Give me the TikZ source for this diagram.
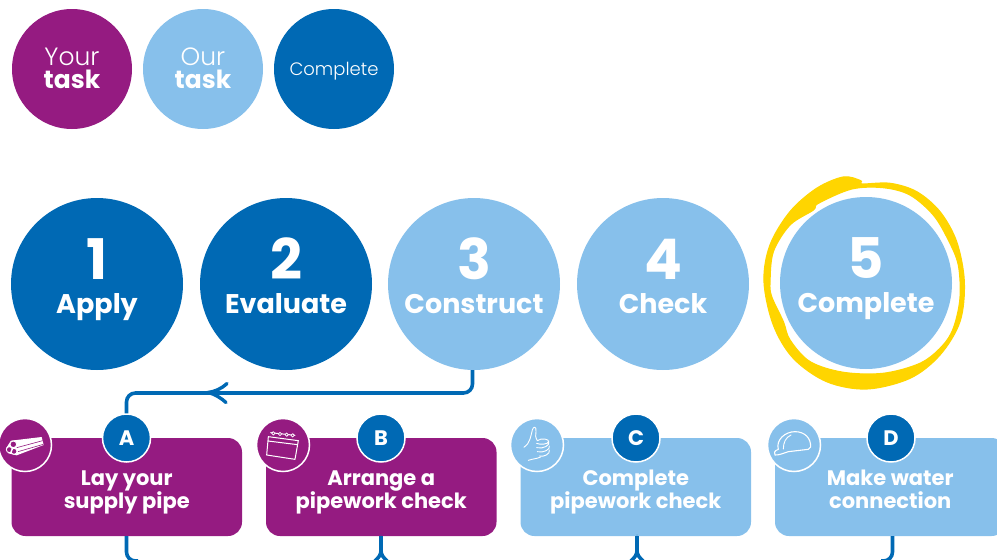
\documentclass[tikz,border=0pt]{standalone}
\usepackage{fontspec}
\setmainfont{Poppins}[UprightFont=*-Light,BoldFont=*-SemiBold]
\newfontfamily\heavy{Poppins Bold}[UprightFont=*,BoldFont=*]
\definecolor{purp}{HTML}{951B81}
\definecolor{lblue}{HTML}{87C0EB}
\definecolor{dblue}{HTML}{0069B4}
\definecolor{yell}{HTML}{FFD500}
\tikzset{
 legend/.style={circle,inner sep=0,minimum size=120pt,align=center,text=white,font=\fontsize{25}{23}\selectfont},
 big/.style={circle,inner sep=0,minimum size=172pt,text=white},
 taskbox/.style={rounded corners=14pt,inner sep=0,minimum height=98pt,minimum width=230.5pt,text=white,align=center,text height=48pt,text depth=5pt,font=\fontsize{21}{23}\selectfont\heavy},
 badge/.style={circle,draw=white,line width=1.5pt,fill=dblue,inner sep=0,minimum size=48pt,text=white,font=\fontsize{21}{21}\selectfont\heavy},
 iconc/.style={circle,draw=white,line width=1.5pt,inner sep=0,minimum size=53pt},
 link/.style={draw=dblue,line width=3.6pt,rounded corners=9pt},
 ic/.style={draw=white,line width=.9pt,line join=round,line cap=round},
 zoomed/.style={shift={#1},x=.3333pt,y=-.3333pt},
}
\newcommand{\bignode}[5]{\node[big,fill=#1] (#2) at (#3) {};
 \node[anchor=base,text=white,font=\fontsize{56}{56}\selectfont\heavy] (#2n) at ([yshift=5pt]#2.center) {#4};
 \node[anchor=base,text=white,font=\fontsize{27}{27}\selectfont\heavy] (#2t) at ([yshift=-29pt]#2.center) {#5};}
\begin{document}
\begin{tikzpicture}[x=1pt,y=-1pt]
\useasboundingbox (0,0) rectangle (997,560);
\node[legend,fill=purp] (l1) at (72,69) {};
\node[legend,fill=lblue] (l2) at (203,69) {};
\node[legend,fill=dblue] (l3) at (334,69) {};
\node[align=center,text=white,font=\fontsize{25}{23}\selectfont] (l1t) at (72,68.5) {Your\\{\heavy task}};
\node[align=center,text=white,font=\fontsize{25}{23}\selectfont] (l2t) at (203,68.5) {Our\\{\heavy task}};
\node[text=white,font=\fontsize{18}{20}\selectfont] (l3t) at (334,71) {Complete};
% yellow scribble
\filldraw[yell,line width=1.2pt,even odd rule,zoomed={(750,165)}]
 plot[smooth cycle,tension=.55] coordinates {(332,47)(336,57)(420,55)(500,80)(570,140)(620,230)(643,350)(630,470)(570,570)(480,640)(350,672)(230,650)(130,580)(70,480)(42,350)(60,240)(120,140)(200,70)(280,36)}
 plot[smooth cycle,tension=.55] coordinates {(305,72)(400,68)(480,90)(550,150)(595,225)(625,300)(630,400)(610,490)(575,545)(510,595)(400,625)(280,622)(180,590)(120,525)(100,470)(65,395)(60,350)(70,260)(120,180)(190,135)(205,115)};
\bignode{dblue}{s1}{97,284}{1}{Apply}
\bignode{dblue}{s2}{286,284}{2}{Evaluate}
\bignode{lblue}{s3}{474,284}{3}{Construct}
\bignode{lblue}{s4}{663,284}{4}{Check}
\bignode{lblue}{s5}{866,283}{5}{Complete}
% boxes
\node[taskbox,fill=purp] (ba) at (126.75,487) {Lay your\\supply pipe};
\node[taskbox,fill=purp] (bb) at (381.25,487) {Arrange a\\pipework check};
\node[taskbox,fill=lblue] (bc) at (635.75,487) {Complete\\pipework check};
\node[taskbox,fill=lblue] (bd) at (890.25,487) {Make water\\connection};
\node[badge] (a) at (126.5,438) {A};
\node[badge] (b) at (381,438) {B};
\node[badge] (c) at (636,438) {C};
\node[badge] (d) at (891,438) {D};
\node[iconc,fill=purp] (ia) at (25,445) {};
\node[iconc,fill=purp] (ib) at (283,445) {};
\node[iconc,fill=lblue] (ic) at (537,445) {};
\node[iconc,fill=lblue] (id) at (794,445) {};
% pipes icon
\begin{scope}[zoomed={(0,400)}]
 \fill[white] (33,122) -- (125,111) -- (131,135) -- (50,166) -- (25,160) -- (18,145) -- cycle;
 \draw[purp,line width=.6pt] (50,143) -- (128,122) (54,155) -- (130,133);
 \draw[purp,fill=purp,line width=.9pt,draw=white] (40,133) circle (10) (28,149) circle (9) (42,154) circle (9);
\end{scope}
% calendar icon
\begin{scope}[zoomed={(250,400)}]
 \draw[ic,line width=1pt] (55,110) -- (145,122) -- (135,178) -- (50,165) -- cycle (54,123) -- (143,134);
 \draw[ic,line width=1pt] (62,98) -- (135,106);
 \draw[ic,line width=.8pt,fill=purp] (70,100) circle (5) (90,102) circle (5) (110,104) circle (5) (128,106) circle (5);
\end{scope}
% thumb icon
\begin{scope}[zoomed={(500,400)}]
 \draw[ic] (72,142) .. controls (90,130) and (92,110) .. (97,90) .. controls (100,78) and (110,78) .. (108,95) .. controls (106,105) and (106,112) .. (112,122);
 \draw[ic] (112,122) .. controls (125,112) and (148,118) .. (146,125) .. controls (145,133) and (120,135) .. (110,130);
 \draw[ic] (146,125) .. controls (152,135) and (130,148) .. (110,143);
 \draw[ic] (148,138) .. controls (152,148) and (130,160) .. (112,155);
 \draw[ic] (148,150) .. controls (152,162) and (130,172) .. (118,168);
 \draw[ic] (85,181) .. controls (100,176) and (112,176) .. (122,171);
\end{scope}
% helmet icon
\begin{scope}[zoomed={(755,400)}]
 \draw[ic,line width=1.1pt] (70,148) .. controls (62,120) and (90,95) .. (120,95) .. controls (150,95) and (168,115) .. (167,141) -- (160,148) -- (100,155) .. controls (85,160) and (70,166) .. (60,165) .. controls (55,160) and (58,152) .. (70,148) -- cycle;
 \draw[ic] (85,147) .. controls (85,128) and (92,112) .. (108,105);
\end{scope}
% connectors
\draw[link] (s3.south -| 472.5,0) -- (472.5,393) -- (126.5,393) -- (a.north);
\draw[dblue,line width=3.4pt,line cap=round] (227,383.5) .. controls (221,389) and (215,391.5) .. (208,392.5) .. controls (215,394) and (221,398) .. (226,402.5);
\coordinate (ea) at (138,561); \coordinate (ed) at (881,561);
\draw[link] (ba.south -| a) -- (126.5,561) -- (ea);
\draw[link] (bd.south -| 892.5,0) -- (892.5,561) -- (ed);
\draw[dblue,line width=3.6pt] (bb.south -| b) -- (381,552) (375,561) .. controls (379,557) and (381,555) .. (381,550) .. controls (381,555) and (383,557) .. (387,561);
\draw[dblue,line width=3.6pt] (bc.south -| 637,0) -- (637,552) (631,561) .. controls (635,557) and (637,555) .. (637,550) .. controls (637,555) and (639,557) .. (643,561);
\end{tikzpicture}
\end{document}
